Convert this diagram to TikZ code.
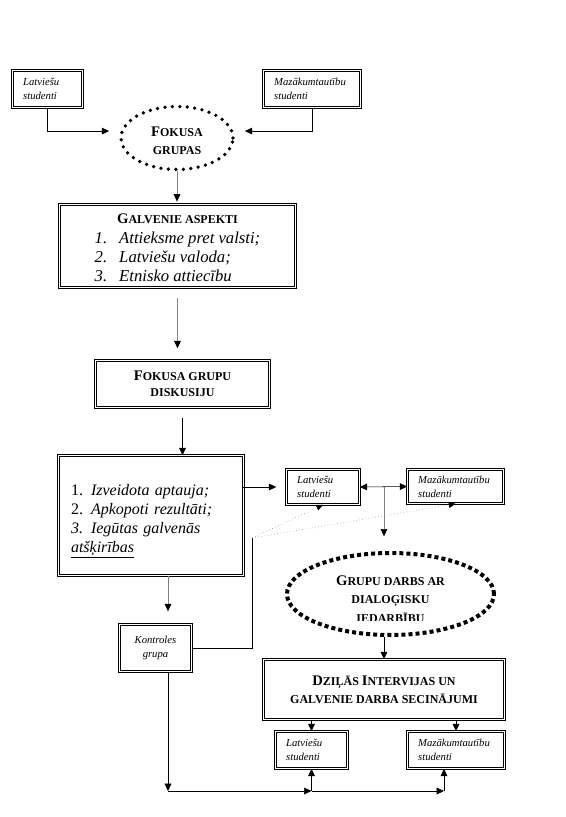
\documentclass[tikz,border=0pt]{standalone}
\usepackage{fontspec}
\setmainfont{Liberation Serif}
\usetikzlibrary{arrows.meta}
\usetikzlibrary{shapes.geometric}

\newcommand{\capl}[1]{{\fontsize{11}{13.5}\selectfont #1}}

\begin{document}
\begin{tikzpicture}[
                x=0.75pt, y=-0.75pt,
                dbox/.style={draw, double, double distance=1.4pt, line width=0.4pt},
                sbox/.style={dbox, font=\itshape\fontsize{8}{10.5}\selectfont,
                    align=left, inner xsep=8pt, inner ysep=0pt},
                head/.style={font=\bfseries\fontsize{9}{13.5}\selectfont, align=center},
                arr/.style={-{Triangle[length=5.5pt, width=5pt]}},
                garr/.style={draw=gray, -{Triangle[length=5.5pt, width=5pt, color=black]}},
                dotarr/.style={gray, dotted, thin, -{Triangle[length=5pt, width=4.5pt, color=black]}} ]

            \useasboundingbox (0,0) rectangle (565,817);

            % top row
            \node[sbox, minimum width=52.5pt, minimum height=27.75pt, text width=36.5pt]
                (latA) at (47.5,89) {Latviešu\\studenti};
            \node[sbox, minimum width=72.75pt, minimum height=27.75pt, text width=56.75pt]
                (mazA) at (312,89) {Mazākumtautību\\studenti};
            \node[ellipse, draw, line width=2.8pt, line cap=round, dash pattern=on 0pt off 5.6pt,
                minimum width=84pt, minimum height=47.25pt, inner sep=0pt]
                (focus) at (177,138) {};
            \node[head] (focustxt) at (177,141) {\capl{F}OKUSA\\GRUPAS};

            \draw[arr, shorten >=7.5pt] (latA.south) |- ([yshift=5.2pt]focus.west);
            \draw[arr, shorten >=7.5pt] (mazA.south) |- ([yshift=5.2pt]focus.east);

            % aspects and discussion
            \node[dbox, minimum width=177pt, minimum height=62.25pt] (galv) at (177.5,246) {};
            \node[align=center, font=\itshape\fontsize{12.5}{14}\selectfont]
                (galvtxt) at (177.5,250) {{\upshape\bfseries\fontsize{9}{13.5}\selectfont \capl{G}ALVENIE ASPEKTI}\\[4.5pt]
                \begin{tabular}{@{}l@{\hspace{9pt}}l@{}}
                    1. & Attieksme pret valsti;\\
                    2. & Latviešu valoda;\\
                    3. & Etnisko attiecību
                \end{tabular}};
            \node[dbox, head, minimum width=130.5pt, minimum height=35.25pt,
                font=\bfseries\fontsize{9}{12}\selectfont]
                (fgd) at (182.5,384) {\capl{F}OKUSA GRUPU\\DISKUSIJU};

            \draw[garr, shorten >=2pt] (focus.south) -- (focus.south |- galv.north);
            \draw[garr, shorten <=8pt, shorten >=9pt] (galv.south) -- (galv.south |- fgd.north);

            % results
            \node[dbox, minimum width=138.75pt, minimum height=90pt] (big) at (151,515.5) {};
            \node[text width=120pt, align=left, font=\fontsize{12}{14.25}\selectfont]
                (bigtxt) at (151,521) {1. \textit{Izveidota aptauja;}\\
                2. \textit{Apkopoti rezultāti;}\\
                \textit{3. Iegūtas galvenās}\\
                \underline{\textit{atšķirības}}};
            \draw[arr, shorten <=8pt] (fgd.south) -- (fgd.south |- big.north);

            \node[sbox, minimum width=54.75pt, minimum height=26.25pt, text width=38.75pt]
                (latB) at (323,487) {Latviešu\\studenti};
            \node[sbox, minimum width=72pt, minimum height=25.5pt, text width=56pt]
                (mazB) at (455.5,486.5) {Mazākumtautību\\studenti};

            \draw[arr, shorten <=-1pt, shorten >=7.5pt] (latB.west -| big.east) -- (latB.west);
            \draw[{Triangle[length=5.5pt, width=5pt]}-{Triangle[length=5.5pt, width=5pt]}]
                (latB.east) -- (mazB.west);

            % group work and interviews
            \node[ellipse, draw, line width=3pt, dash pattern=on 3pt off 2.3pt,
                minimum width=155.25pt, minimum height=61.5pt, inner sep=0pt]
                (ell2) at (390.5,594) {};
            \begin{scope}
                \clip (287,550) rectangle (494,620);
                \node[head, font=\bfseries\fontsize{9}{14}\selectfont]
                    (ell2txt) at (390.5,599) {\capl{G}RUPU DARBS AR\\DIALOĢISKU\\IEDARBĪBU};
            \end{scope}

            \node[dbox, head, minimum width=180.75pt, minimum height=45pt]
                (dz) at (384,689.5) {\capl{D}ZIĻĀS \capl{I}NTERVIJAS UN\\GALVENIE DARBA SECINĀJUMI};

            \draw[garr, shorten >=11pt] (dz.north |- latB.east) -- (dz.north |- ell2.north);
            \draw[arr] (dz.north |- ell2.south) -- (dz.north);

            % control group
            \node[sbox, align=center, minimum width=54pt, minimum height=35.25pt, text width=38pt]
                (kont) at (155.5,648) {Kontroles\\grupa};
            \coordinate (apex) at (252,538);
            \coordinate (kx) at (168,791);

            \draw[garr, shorten >=9.75pt] (big.south -| kx) -- (kont.north -| kx);
            \draw (kont.east) -| (apex);
            \draw[dotarr] (apex) -- (latB.south);
            \draw[dotarr] (apex) -- (mazB.south);

            % bottom row
            \node[sbox, minimum width=54pt, minimum height=27.75pt, text width=38pt]
                (latC) at (311.5,750) {Latviešu\\studenti};
            \node[sbox, minimum width=72.75pt, minimum height=27.75pt, text width=56.75pt]
                (mazC) at (456,750) {Mazākumtautību\\studenti};

            \draw[arr] (latC.north |- dz.south) -- (latC.north);
            \draw[arr] (mazC.north |- dz.south) -- (mazC.north);

            \coordinate (b1) at (latC.south |- kx);
            \coordinate (b2) at (444,791);
            \draw[arr] (kont.south -| kx) -- (kx);
            \draw[arr] (kx) -- (b1);
            \draw[arr] (b1) -- (b2);
            \draw[arr] (b1) -- (latC.south);
            \draw[arr] (b2) -- (b2 |- mazC.south);

        \end{tikzpicture}
\end{document}
